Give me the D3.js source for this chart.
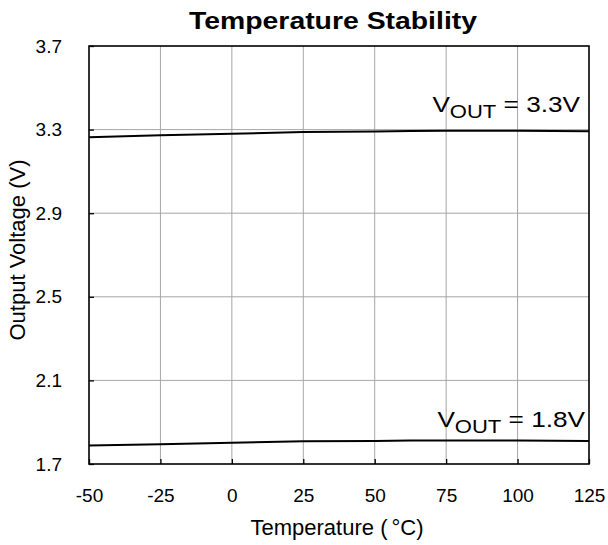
<!DOCTYPE html>
<html><head><meta charset="utf-8">
<script src="https://cdn.jsdelivr.net/npm/d3@7"></script>
<style>body{margin:0;background:#fff;} text{font-family:"Liberation Sans",Arial,sans-serif;fill:#000;}</style>
</head><body>
<svg id="c" width="608" height="545"></svg>
<script>
const temps = [-50, -25, 0, 25, 50, 62.5, 75, 100, 125];
const vout33 = [3.263, 3.273, 3.280, 3.289, 3.291, 3.293, 3.295, 3.295, 3.292];
const vout18 = [1.789, 1.794, 1.802, 1.809, 1.810, 1.813, 1.813, 1.813, 1.810];
const xTicks = [-50, -25, 0, 25, 50, 75, 100, 125];
const yTicks = [1.7, 2.1, 2.5, 2.9, 3.3, 3.7];
const labels = [{main:"V", sub:"OUT", rest:" = 3.3V", v:3.3}, {main:"V", sub:"OUT", rest:" = 1.8V", v:1.8}];

const svg = d3.select("#c");
const L = 89, R = 589, T = 46, B = 464;
const x = d3.scaleLinear().domain([-50,125]).range([L,R]);
const y = d3.scaleLinear().domain([1.7,3.7]).range([B,T]);

// grid
svg.append("g").selectAll("line").data(xTicks.slice(1,-1)).join("line")
  .attr("x1",d=>x(d)).attr("x2",d=>x(d)).attr("y1",T).attr("y2",B)
  .attr("stroke","#a6a6a6").attr("stroke-width",1);
svg.append("g").selectAll("line").data(yTicks.slice(1,-1)).join("line")
  .attr("y1",d=>y(d)).attr("y2",d=>y(d)).attr("x1",L).attr("x2",R)
  .attr("stroke","#a6a6a6").attr("stroke-width",1);

// axes with inward ticks
const xa = svg.append("g").attr("transform",`translate(0,${B})`)
  .call(d3.axisBottom(x).tickValues(xTicks).tickSizeInner(-5).tickSizeOuter(0).tickPadding(25).tickFormat(d=>String(d)));
xa.select(".domain").remove();
xa.selectAll("line").attr("stroke","#000").attr("stroke-width",1.3);
xa.selectAll("text").style("font-size","19px").attr("fill","#000");

const ya = svg.append("g").attr("transform",`translate(${L},0)`)
  .call(d3.axisLeft(y).tickValues(yTicks).tickSizeInner(-5).tickSizeOuter(0).tickPadding(27).tickFormat(d3.format(".1f")));
ya.select(".domain").remove();
ya.selectAll("line").attr("stroke","#000").attr("stroke-width",1.3);
ya.selectAll("text").style("font-size","19px").attr("fill","#000");

// frame
svg.append("rect").attr("x",L).attr("y",T).attr("width",R-L).attr("height",B-T)
  .attr("fill","none").attr("stroke","#000").attr("stroke-width",1.6);

// lines
const line = d3.line().x((d,i)=>x(temps[i])).y(d=>y(d));
[vout33, vout18].forEach(s=>{
  svg.append("path").datum(s).attr("d",line).attr("fill","none")
    .attr("stroke","#000").attr("stroke-width",2);
});

// labels (horizontally widened like the reference)
labels.forEach(lb=>{
  const right = lb.v > 3 ? 580 : 585;
  const base = lb.v > 3 ? y(lb.v) - 18 : y(lb.v) - 16;
  const g = svg.append("g").attr("transform",`translate(${right},${base}) scale(1.19,1)`);
  const t = g.append("text").attr("x",0).attr("y",0)
    .attr("text-anchor","end").style("font-size","22px");
  t.append("tspan").text(lb.main);
  t.append("tspan").text(lb.sub).attr("dy",6).style("font-size","18.5px");
  t.append("tspan").text(lb.rest).attr("dy",-6);
});

// titles
svg.append("text").attr("x",333).attr("y",29).attr("text-anchor","middle")
  .attr("textLength",288).attr("lengthAdjust","spacingAndGlyphs")
  .style("font-size","24.5px").style("font-weight","bold").text("Temperature Stability");
const xt = svg.append("text").attr("x",337).attr("y",535).attr("text-anchor","middle")
  .style("font-size","22px");
xt.append("tspan").text("Temperature (");
xt.append("tspan").attr("dx",4).text("\u00B0C)");
svg.append("text").attr("transform",`translate(25,250) rotate(-90)`).attr("text-anchor","middle")
  .style("font-size","22px").text("Output Voltage (V)");
</script>
</body></html>
